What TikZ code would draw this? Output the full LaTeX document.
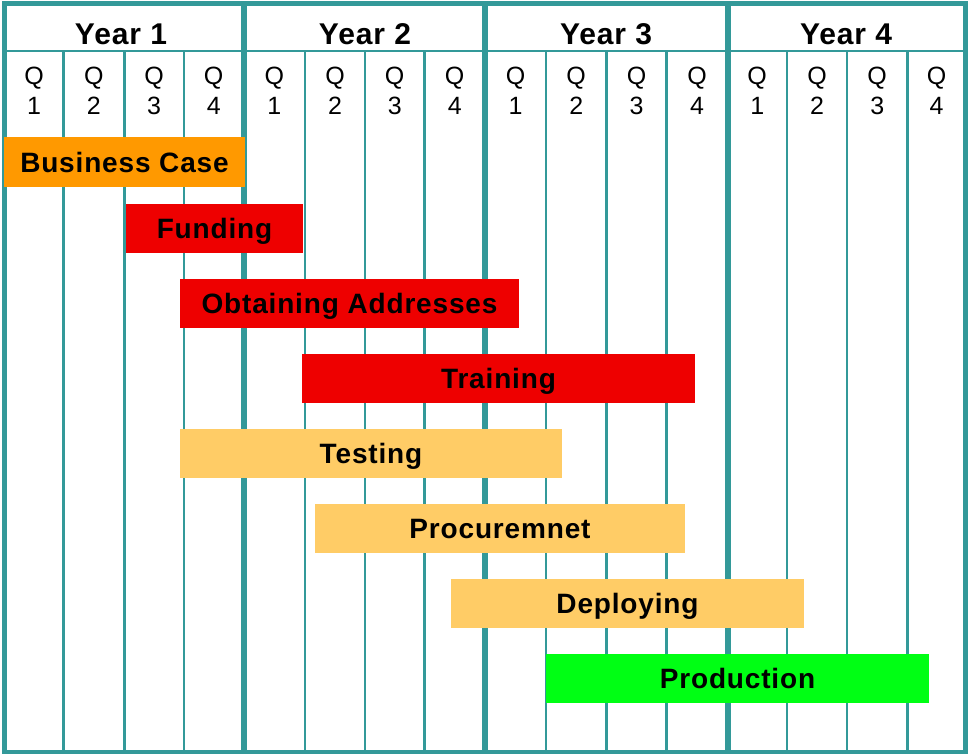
\documentclass[tikz,border=0pt]{standalone}
\usepackage{fontspec}
\setmainfont{Liberation Sans}
\newfontfamily\barfont[LetterSpace=3]{Liberation Sans}
\usepackage{tikz, xcolor}
\usetikzlibrary{positioning}
\definecolor{grid_teal}{RGB}{51,153,153}
\definecolor{bc_orange}{RGB}{255,153,0}
\definecolor{task_red}{RGB}{238,0,0}
\definecolor{task_tan}{RGB}{255,204,102}
\definecolor{prod_green}{RGB}{0,255,20}

\begin{document}
\begin{tikzpicture}[x=1pt, y=-1pt,
    bar/.style={inner sep=0pt, minimum height=49pt, text height=20pt, text depth=0pt,
        font=\fontsize{28}{30}\barfont\bfseries},
    yearlbl/.style={inner sep=0pt, text height=21.5pt, text depth=0pt,
        font=\fontsize{30}{32}\barfont\bfseries},
    qlbl/.style={inner sep=0pt, align=center, font=\fontsize{25}{29.5}\selectfont}]
    \useasboundingbox (0,0) rectangle (968,754);
    \fill[white] (0,0) rectangle (968,754);

    \foreach \x in {63.5,124.3,183.8,305,365,424.5,546,606.5,666.5,787,847,907.5}
        \draw[grid_teal, line width=2.5pt] (\x,51) -- (\x,752);
    \foreach \x in {243.7,485,727.5}
        \draw[grid_teal, line width=6pt] (\x,3.5) -- (\x,752);
    \draw[grid_teal, line width=2.5pt] (4.5,51) -- (965.5,51);
    \draw[grid_teal, line width=5pt] (4.5,3.5) rectangle (965.5,752);

    \foreach \n/\x in {1/121,2/365,3/606,4/846}
        \node[yearlbl] (y\n) at (\x,33.5) {Year \n};
    \foreach \x [count=\i] in {34,93.9,154,213.7,274.4,335,394.7,454.7,515.5,576.2,636.5,697,757.2,817,877.2,936.5} {
        \pgfmathtruncatemacro{\q}{mod(\i-1,4)+1}
        \node[qlbl] (q\i) at (\x,91) {Q\\\q};
    }

    \node[bar, fill=bc_orange, minimum width=241pt] (bc) at (124.5,162) {Business Case};
    \node[bar, fill=task_red, minimum width=177pt] (fund) at (214.5,228.5) {Funding};
    \node[bar, fill=task_red, minimum width=339pt] (addr) at (349.5,303.5) {Obtaining Addresses};
    \node[bar, fill=task_red, minimum width=393pt] (train) at (498.5,378.5) {Training};
    \node[bar, fill=task_tan, minimum width=382pt] (test) at (371,453.5) {Testing};
    \node[bar, fill=task_tan, minimum width=370pt] (proc) at (500,528.5) {Procuremnet};
    \node[bar, fill=task_tan, minimum width=353pt] (dep) at (627.5,603.5) {Deploying};
    \node[bar, fill=prod_green, minimum width=383pt] (prod) at (737.5,678.5) {Production};

\end{tikzpicture}
\end{document}
